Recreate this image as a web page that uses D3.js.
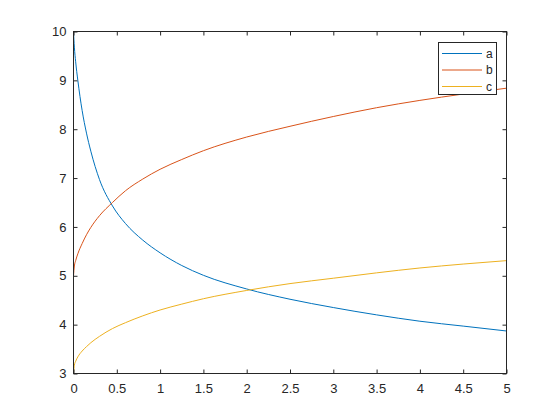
<!DOCTYPE html>
<html>
<head>
<meta charset="utf-8">
<script src="https://cdn.jsdelivr.net/npm/d3@7/dist/d3.min.js"></script>
<style>
	body { margin: 0; background: #fff; }
	text { font-family: Arial, "Liberation Sans", Helvetica, sans-serif; fill: #262626; }
</style>
</head>
<body>
<div class="chart"></div>
<script>
// values
var xs = [0, 0.01, 0.025, 0.05, 0.1, 0.15, 0.2, 0.3, 0.45, 0.6, 0.8, 1, 1.25, 1.5, 2, 2.5, 3, 3.5, 4, 4.5, 5];
var seriesA = [10, 9.68, 9.38, 9.0, 8.38, 7.92, 7.55, 6.97, 6.43, 6.07, 5.73, 5.47, 5.21, 5.01, 4.73, 4.52, 4.35, 4.20, 4.07, 3.97, 3.87];
var seriesB = [5, 5.2, 5.31, 5.45, 5.66, 5.84, 5.99, 6.23, 6.5, 6.74, 6.98, 7.18, 7.38, 7.56, 7.84, 8.06, 8.26, 8.44, 8.59, 8.72, 8.84];
var seriesC = [3, 3.17, 3.25, 3.34, 3.46, 3.55, 3.63, 3.76, 3.92, 4.04, 4.18, 4.30, 4.42, 4.53, 4.70, 4.84, 4.95, 5.06, 5.16, 5.24, 5.31];
var names = ["a", "b", "c"];
var colors = ["#0072BD", "#D95319", "#EDB120"];
var xTicks = [0, 0.5, 1, 1.5, 2, 2.5, 3, 3.5, 4, 4.5, 5];
var yTicks = [3, 4, 5, 6, 7, 8, 9, 10];

var w = 560;
var h = 420;
var padLeft = 73.5, padRight = 506.5, padTop = 31.5, padBottom = 373.5;
var axisColor = "#262626";

var svg = d3.select(".chart")
	.append("svg")
	.attr("width", w)
	.attr("height", h);

var xScale = d3.scaleLinear()
	.domain([0, 5])
	.range([padLeft, padRight]);

var yScale = d3.scaleLinear()
	.domain([3, 10])
	.range([padBottom, padTop]);

var allSeries = [seriesA, seriesB, seriesC];

var line = d3.line()
	.x(function (d) { return xScale(d.x); })
	.y(function (d) { return yScale(d.y); })
	.curve(d3.curveMonotoneX);

svg.append("g")
	.attr("class", "lines")
	.selectAll("path")
	.data(allSeries)
	.enter()
	.append("path")
	.attr("d", function (s) {
		return line(s.map(function (v, i) { return { x: xs[i], y: v }; }));
	})
	.attr("fill", "none")
	.attr("stroke", function (s, i) { return colors[i]; })
	.attr("stroke-width", 1);

// axes, ticks point inward
var fmt = function (d) { return d; };

var xAxis = svg.append("g")
	.attr("transform", "translate(0," + padBottom + ")")
	.call(d3.axisBottom(xScale).tickValues(xTicks).tickFormat(fmt)
		.tickSizeInner(-4).tickSizeOuter(0).tickPadding(10));

var yAxis = svg.append("g")
	.attr("transform", "translate(" + padLeft + ",0)")
	.call(d3.axisLeft(yScale).tickValues(yTicks).tickFormat(fmt)
		.tickSizeInner(-4).tickSizeOuter(0).tickPadding(7));

var xTop = svg.append("g")
	.attr("transform", "translate(0," + padTop + ")")
	.call(d3.axisTop(xScale).tickValues(xTicks).tickFormat("")
		.tickSizeInner(-4).tickSizeOuter(0));

var yRight = svg.append("g")
	.attr("transform", "translate(" + padRight + ",0)")
	.call(d3.axisRight(yScale).tickValues(yTicks).tickFormat("")
		.tickSizeInner(-4).tickSizeOuter(0));

[xAxis, yAxis, xTop, yRight].forEach(function (g) {
	g.select(".domain").remove();
	g.selectAll("line").attr("stroke", axisColor);
	g.selectAll("text")
		.style("font-size", "13px")
		.attr("fill", axisColor);
});

svg.append("rect")
	.attr("x", padLeft)
	.attr("y", padTop)
	.attr("width", padRight - padLeft)
	.attr("height", padBottom - padTop)
	.attr("fill", "none")
	.attr("stroke", axisColor)
	.attr("stroke-width", 1);

// legend
var legend = svg.append("g")
	.attr("class", "legend");

legend.append("rect")
	.attr("x", 438.5)
	.attr("y", 42.5)
	.attr("width", 58)
	.attr("height", 52)
	.attr("fill", "#fff")
	.attr("stroke", axisColor)
	.attr("stroke-width", 1);

var rows = legend.selectAll("g.row")
	.data(names)
	.enter()
	.append("g")
	.attr("class", "row")
	.attr("transform", function (d, i) { return "translate(0," + (53.5 + i * 16.5) + ")"; });

rows.append("line")
	.attr("x1", 442)
	.attr("x2", 482)
	.attr("y1", 0)
	.attr("y2", 0)
	.attr("stroke", function (d, i) { return colors[i]; })
	.attr("stroke-width", 1);

rows.append("text")
	.attr("x", 486)
	.attr("y", 0)
	.attr("dy", "0.35em")
	.style("font-size", "12px")
	.text(function (d) { return d; });
</script>
</body>
</html>
